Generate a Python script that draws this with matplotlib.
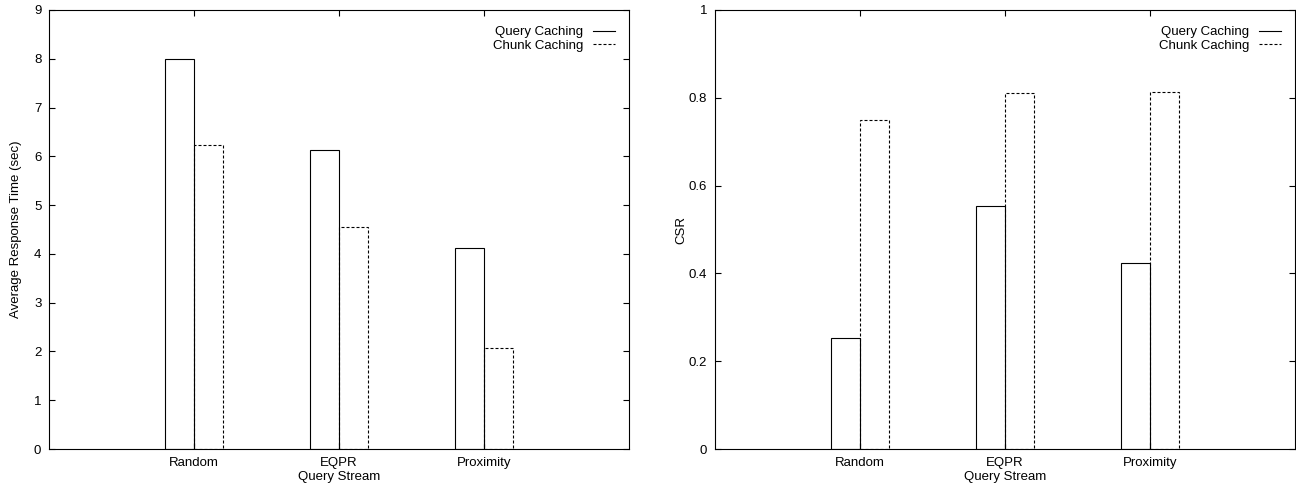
import numpy as np
import matplotlib
matplotlib.use('Agg')
import matplotlib.pyplot as plt

plt.rcParams['font.family'] = ['Liberation Sans', 'DejaVu Sans']
plt.rcParams['font.size'] = 9.5

# data
streams = ['Random', 'EQPR', 'Proximity']
series = ['Query Caching', 'Chunk Caching']
resp_query = [8.0, 6.14, 4.13]
resp_chunk = [6.23, 4.56, 2.07]
csr_query = [0.253, 0.553, 0.423]
csr_chunk = [0.75, 0.811, 0.813]

fig = plt.figure(figsize=(12.96, 4.88), dpi=100)
ax1 = fig.add_axes([49/1296, 1-449/488, 580/1296, 439/488])
ax2 = fig.add_axes([715/1296, 1-449/488, 580/1296, 439/488])

x = np.arange(1, len(streams) + 1)
w = 0.2
dash = (0, (2.7, 1.8))


def draw(ax, qvals, cvals, ymax, yticks, ylabel):
    ax.bar(x - w/2, qvals, w, fill=False, edgecolor='black', linewidth=0.8,
           label=series[0])
    ax.bar(x + w/2, cvals, w, fill=False, edgecolor='black', linewidth=0.8,
           linestyle=dash, label=series[1])
    ax.set_xlim(0, 4)
    ax.set_ylim(0, ymax)
    ax.set_xticks(x)
    ax.set_xticklabels(streams)
    ax.set_yticks(yticks)
    ax.tick_params(direction='in', top=True, right=True, length=4.5, width=0.8)
    ax.tick_params(axis='x', pad=5.5)
    ax.tick_params(axis='y', pad=5.5)
    for s in ax.spines.values():
        s.set_linewidth(0.8)
    ax.set_xlabel('Query Stream')
    ax.xaxis.set_label_coords(0.5, -0.05)
    ax.set_ylabel(ylabel)
    ax.yaxis.set_label_coords(-0.047, 0.5)
    # gnuplot-like key: text first, then line sample
    h1 = plt.Line2D([], [], color='black', linewidth=0.8)
    h2 = plt.Line2D([], [], color='black', linewidth=0.8, linestyle=dash)
    ax.legend([h1, h2], series, loc='upper right', frameon=False, markerfirst=False,
              handlelength=1.65, handletextpad=0.75, labelspacing=0.08,
              borderpad=0, borderaxespad=0,
              bbox_to_anchor=(1 - 14/580, 1 - 16/439))


draw(ax1, resp_query, resp_chunk, 9, range(0, 10), 'Average Response Time (sec)')
draw(ax2, csr_query, csr_chunk, 1, [0, 0.2, 0.4, 0.6, 0.8, 1], 'CSR')
ax2.set_yticklabels(['0', '0.2', '0.4', '0.6', '0.8', '1'])

fig.savefig('out.png', dpi=100)
